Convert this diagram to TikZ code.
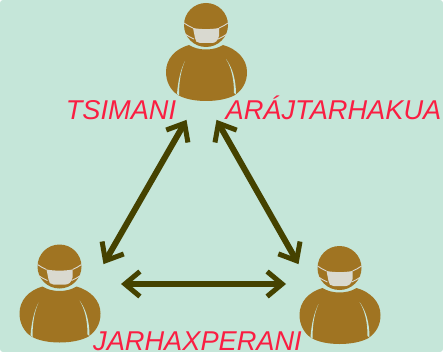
\documentclass[tikz,border=0pt]{standalone}
\usepackage{fontspec}
\setmainfont{Liberation Sans}
\usetikzlibrary{arrows.meta}
\definecolor{eBack}{HTML}{C5E6D9}
\definecolor{eBrown}{HTML}{A07422}
\definecolor{eMask}{HTML}{D9D9D0}
\definecolor{eArrow}{HTML}{454200}
\definecolor{eRed}{HTML}{FA1E42}
\tikzset{lbl/.style={font=\itshape\fontsize{27.2}{27.2}\selectfont, eRed, inner sep=0pt, anchor=base}}
\tikzset{a/.style={draw, line width=6pt, eArrow, {Straight Barb[length=15pt,width=25pt,line width=5pt]}-{Straight Barb[length=15pt,width=25pt,line width=5pt]}, shorten <=1pt, shorten >=1pt}}
\tikzset{person/.pic={
  \fill[eBrown] (0,0) circle (22);
  \draw[eMask, line width=.9pt] (-22,-2) .. controls (-19,0) and (-16,2) .. (-13,3);
  \draw[eMask, line width=.9pt] (22,-2) .. controls (19,0) and (16,2) .. (13,3);
  \draw[eMask, line width=.9pt] (-21,9) .. controls (-18,11) and (-15,13) .. (-12,14);
  \draw[eMask, line width=.9pt] (21,9) .. controls (18,11) and (15,13) .. (12,14);
  \fill[eMask] (-13,3) .. controls (-5,4.5) and (5,4.5) .. (13,3) -- (13,11) .. controls (12,16) and (9,18) .. (6,18)
    -- (-6,18) .. controls (-9,18) and (-11,16) .. (-11,13) -- cycle;
  \fill[eBrown] (-17,20) .. controls (-8,26) and (8,26) .. (17,20) .. controls (31,24) and (41,34) .. (41,47)
    .. controls (41,58) and (36,65) .. (29,70) .. controls (15,78) and (-15,78) .. (-28,70)
    .. controls (-36,65) and (-40,56) .. (-40,47) .. controls (-40,34) and (-31,24) .. (-17,20) -- cycle;
  \fill[eBack] (-21,36) .. controls (-25,44) and (-28,55) .. (-29,69) -- (-27,70.5) .. controls (-27,56) and (-25,45) .. (-21,36) -- cycle;
  \fill[eBack] (20,34) .. controls (25,42) and (28,53) .. (28,68) -- (30,69.5) .. controls (30,54) and (26,42) .. (20,34) -- cycle;
}}
\begin{document}
\begin{tikzpicture}[x=1pt,y=-1pt]
  \useasboundingbox (0,0) rectangle (443,352);
  \fill[eBack, rounded corners=3pt] (0,0) rectangle (443,352);
  \pic at (206,25) {person};
  \pic at (59.5,266.5) {person};
  \pic at (339.5,268) {person};
  \coordinate (t1) at (187,119);
  \coordinate (l1) at (103,265);
  \coordinate (t2) at (216,119);
  \coordinate (r1) at (299,265);
  \coordinate (l2) at (120,284);
  \coordinate (r2) at (287,284);
  \draw [a] (t1) to (l1);
  \draw [a] (t2) to (r1);
  \draw [a] (l2) to (r2);
  \node (tsi) at (121,120) [lbl] {TSIMANI};
  \node (ara) at (333.5,120) [lbl] {ARÁJTARHAKUA};
  \node (jar) at (197.5,350) [lbl] {JARHAXPERANI};
\end{tikzpicture}
\end{document}
